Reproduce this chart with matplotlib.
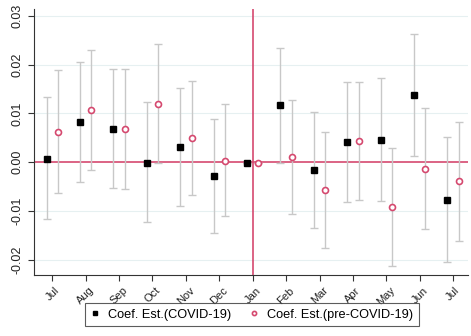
import matplotlib.pyplot as plt
import numpy as np

plt.rcParams['font.family'] = ['Liberation Sans', 'DejaVu Sans']

months = ['Jul', 'Aug', 'Sep', 'Oct', 'Nov', 'Dec', 'Jan',
          'Feb', 'Mar', 'Apr', 'May', 'Jun', 'Jul']

# COVID-19 period estimates and 95% CI
covid = [0.0006, 0.0082, 0.0069, -0.0001, 0.0031, -0.0029, -0.0001,
         0.0117, -0.0016, 0.0041, 0.0046, 0.0137, -0.0077]
covid_hi = [0.0133, 0.0206, 0.0192, 0.0123, 0.0153, 0.0088, -0.0001,
            0.0234, 0.0102, 0.0165, 0.0172, 0.0263, 0.0051]
covid_lo = [-0.0116, -0.0041, -0.0053, -0.0123, -0.0089, -0.0145, -0.0001,
            -0.0001, -0.0134, -0.0082, -0.0080, 0.0012, -0.0204]

# pre-COVID-19 estimates and 95% CI
pre = [0.0062, 0.0107, 0.0068, 0.0119, 0.0049, 0.0003, -0.0001,
       0.0010, -0.0058, 0.0044, -0.0092, -0.0014, -0.0039]
pre_hi = [0.0190, 0.0230, 0.0191, 0.0242, 0.0166, 0.0119, -0.0001,
          0.0127, 0.0062, 0.0165, 0.0030, 0.0111, 0.0083]
pre_lo = [-0.0064, -0.0016, -0.0055, -0.0001, -0.0067, -0.0110, -0.0001,
          -0.0106, -0.0176, -0.0077, -0.0213, -0.0138, -0.0161]

red = '#d5496f'
grey = '#c8c8c8'

x = np.arange(len(months))
xc = x - 0.17
xp = x + 0.17
covid, covid_hi, covid_lo = map(np.array, (covid, covid_hi, covid_lo))
pre, pre_hi, pre_lo = map(np.array, (pre, pre_hi, pre_lo))

fig = plt.figure(figsize=(4.71, 3.36), dpi=100)
ax = fig.add_axes([0.072, 0.182, 0.922, 0.791])

for v in [-0.02, -0.01, 0.01, 0.02, 0.03]:
    ax.axhline(v, color='#e6f0f1', lw=0.8, zorder=0)

ax.axhline(0, color=red, lw=1.2, zorder=1)
ax.axvline(6, color=red, lw=1.2, zorder=1)

ax.errorbar(xc, covid, yerr=[covid - covid_lo, covid_hi - covid],
            fmt='none', ecolor=grey, elinewidth=1, capsize=3, capthick=1, zorder=2)
ax.errorbar(xp, pre, yerr=[pre - pre_lo, pre_hi - pre],
            fmt='none', ecolor=grey, elinewidth=1, capsize=3, capthick=1, zorder=2)

ax.plot(xc, covid, 's', color='black', ms=4.8, zorder=3,
        label='Coef. Est.(COVID-19)')
ax.plot(xp, pre, 'o', mfc='white', mec=red, mew=1.2, ms=4.3, zorder=3,
        label='Coef. Est.(pre-COVID-19)')

ax.set_xlim(-0.55, 12.45)
ax.set_ylim(-0.0231, 0.0314)
ax.set_xticks(x)
ax.set_xticklabels(months, rotation=45, fontsize=8)
ax.set_yticks([-0.02, -0.01, 0.0, 0.01, 0.02, 0.03])
ax.set_yticklabels(['-0.02', '-0.01', '0.00', '0.01', '0.02', '0.03'],
                   rotation=90, va='center', fontsize=9)
for s in ['top', 'right']:
    ax.spines[s].set_visible(False)
for s in ['left', 'bottom']:
    ax.spines[s].set_color('#333333')
ax.tick_params(length=4, color='#333333', labelcolor='#222222')

leg = fig.legend(loc='lower center', bbox_to_anchor=(0.535, 0.01), ncol=2,
                 fontsize=9.2, frameon=True, fancybox=False, edgecolor='#333333',
                 handlelength=0.6, handletextpad=0.7, columnspacing=1.5,
                 markerscale=0.7, borderpad=0.45)
leg.get_frame().set_linewidth(0.8)

fig.savefig('out.png', dpi=100)
